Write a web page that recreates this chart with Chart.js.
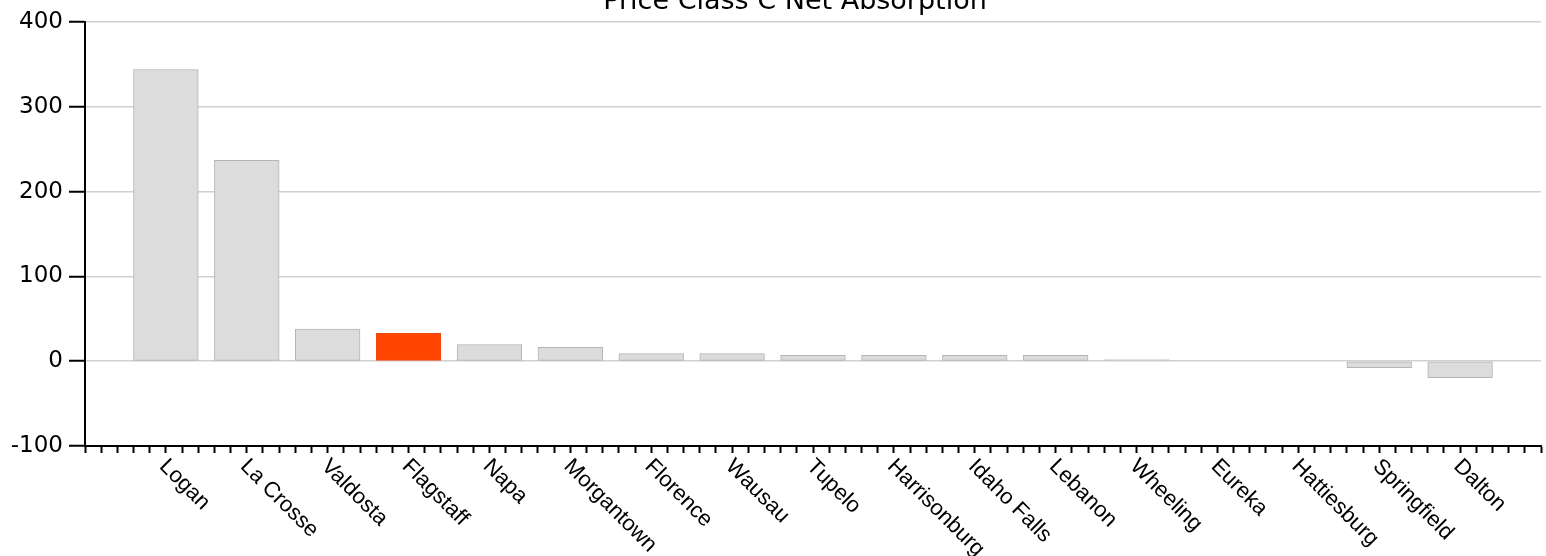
<!DOCTYPE html>
<html>
<head>
<meta charset="utf-8">
<script src="https://cdn.jsdelivr.net/npm/chart.js@4/dist/chart.umd.min.js"></script>
<style>
  html, body { margin: 0; padding: 0; background: #fff; }
  #wrap { width: 1546px; height: 556px; }
</style>
</head>
<body>
<div id="wrap"><canvas id="c" width="1546" height="556"></canvas></div>
<script>
const titleText = 'Price Class C Net Absorption';
const categories = ['Logan','La Crosse','Valdosta','Flagstaff','Napa','Morgantown','Florence','Wausau','Tupelo','Harrisonburg','Idaho Falls','Lebanon','Wheeling','Eureka','Hattiesburg','Springfield','Dalton'];
const values = [344, 237, 38, 33, 19.5, 16.5, 9, 9, 7, 7, 7, 7, 2, 0, 0, -7.5, -19.5];
const highlighted = 'Flagstaff';
const yTicks = [-100, 0, 100, 200, 300, 400];

const points = categories.map((c, i) => ({ x: i + 1, y: values[i] }));

const labelPlugin = {
  id: 'labels',
  afterDraw(chart) {
    const ctx = chart.ctx;
    const xs = chart.scales.x;
    ctx.save();
    ctx.fillStyle = '#000';
    ctx.font = '27px "DejaVu Sans"';
    ctx.textAlign = 'center';
    ctx.textBaseline = 'alphabetic';
    ctx.fillText(titleText, 795, 9);
    ctx.font = '22px "Liberation Sans"';
    ctx.textAlign = 'left';
    ctx.textBaseline = 'middle';
    categories.forEach((c, i) => {
      const px = xs.getPixelForValue(i + 1);
      ctx.save();
      ctx.translate(px - 3, xs.top + 17);
      ctx.rotate(Math.PI / 4);
      ctx.fillText(c, 0, 0);
      ctx.restore();
    });
    ctx.restore();
  }
};

const chart = new Chart(document.getElementById('c'), {
  type: 'bar',
  data: {
    datasets: [{
      data: points,
      backgroundColor: categories.map(c => c === highlighted ? '#ff4500' : '#dcdcdc'),
      borderColor: categories.map(c => c === highlighted ? '#f04a10' : '#b4b4b4'),
      borderWidth: 1,
      borderSkipped: false
    }]
  },
  options: {
    responsive: false,
    animation: false,
    layout: { padding: { top: 22, right: 5, left: 0, bottom: 0 } },
    plugins: { legend: { display: false }, title: { display: false }, tooltip: { enabled: false } },
    scales: {
      x: {
        type: 'linear',
        offset: false,
        min: 0,
        max: categories.length + 1,
        afterFit(s) { s.height = 110; },
        ticks: { display: false, stepSize: 0.2, autoSkip: false },
        grid: { drawOnChartArea: false, offset: false, tickLength: 7, tickColor: '#000', tickWidth: 2 },
        border: { display: true, color: '#000', width: 2 }
      },
      y: {
        min: yTicks[0],
        max: yTicks[yTicks.length - 1],
        afterFit(s) { s.width = 85; },
        afterBuildTicks(s) { s.ticks = yTicks.map(v => ({ value: v })); },
        ticks: { color: '#000', font: { family: 'DejaVu Sans', size: 23 }, padding: 6 },
        grid: { color: '#d0d0d0', lineWidth: 1.5, tickLength: 16, tickColor: '#000', tickWidth: 2 },
        border: { display: true, color: '#000', width: 2 }
      }
    }
  },
  plugins: [labelPlugin]
});

// bar width: 80% of one category step on the linear x scale
const xs = chart.scales.x;
chart.data.datasets[0].barThickness = 0.8 * (xs.getPixelForValue(1) - xs.getPixelForValue(0));
chart.update();
</script>
</body>
</html>
